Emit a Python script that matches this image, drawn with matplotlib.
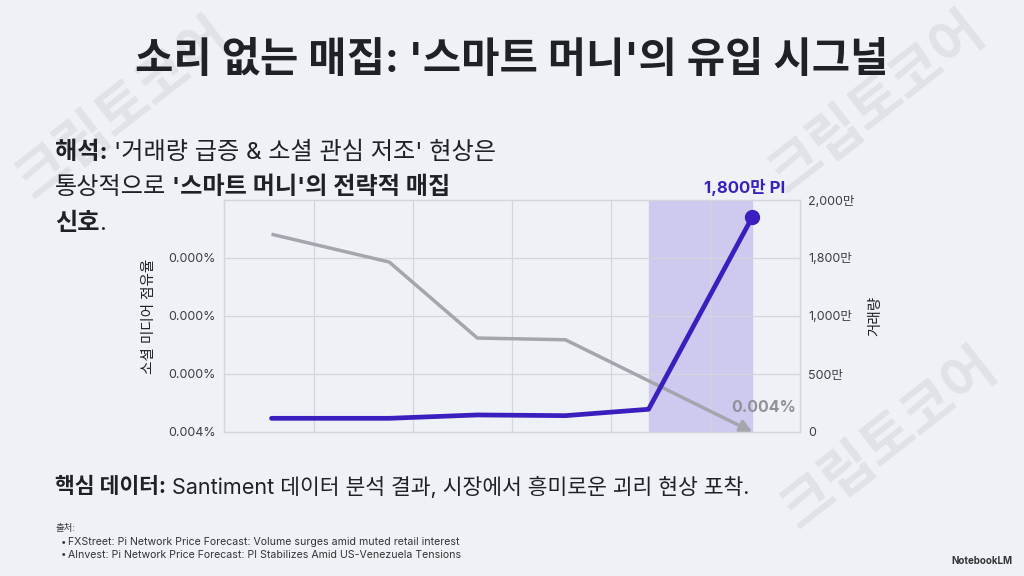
import matplotlib
matplotlib.use('Agg')
import matplotlib.pyplot as plt

# Inter for latin, Noto CJK for hangul (close to Pretendard look)
plt.rcParams['font.family'] = ['Inter', 'Noto Sans CJK KR', 'DejaVu Sans']

# ---- data ----
# x positions of the observations (dates are not labelled in the source)
x_pos = [0.57, 1.76, 2.65, 3.54, 4.38, 5.43]
volume = [118, 118, 147, 141, 196, 1856]          # 만 PI, right axis
social_x = [0.57, 1.76, 2.65, 3.54, 5.43]
social_share = [3.41, 2.93, 1.62, 1.59, 0.0]       # left axis units
left_ticks = [0, 1, 2, 3]
left_labels = ['0.004%', '0.000%', '0.000%', '0.000%']
right_ticks = [0, 500, 1000, 1500, 2000]
right_labels = ['0', '500만', '1,000만', '1,800만', '2,000만']
grid_x = [1, 2, 3, 4, 5]
shade_from, shade_to = 4.38, 5.43

BG = '#EEF2F6'
PURPLE = '#3A1FBE'
GRAY = '#A3A7AD'
DARK = '#1E2227'

W, H = 1024, 576
fig = plt.figure(figsize=(W / 100, H / 100), dpi=100, facecolor=BG)


def px(x, y):
    return x / W, 1 - y / H


# watermarks
for cx, cy in [(125, 110), (878, 104), (890, 440)]:
    fig.text(*px(cx, cy), '크립토코어', fontsize=40, fontweight='bold', color='#DFE3E8',
             rotation=38, ha='center', va='center', zorder=0)

# title
fig.text(*px(512, 61), "소리 없는 매집: '스마트 머니'의 유입 시그널", fontsize=30,
         fontweight='bold', color=DARK, ha='center', va='center')

renderer = fig.canvas.get_renderer()


def rich_line(x0, y, parts, size, color=DARK):
    cur = x0
    for txt, weight in parts:
        lead = len(txt) - len(txt.lstrip(' '))
        txt = txt.lstrip(' ')
        if lead:
            a = fig.text(0, 0, 'xx', fontsize=size, fontweight=weight)
            b = fig.text(0, 0, 'x x', fontsize=size, fontweight=weight)
            sp = b.get_window_extent(renderer).width - a.get_window_extent(renderer).width
            a.remove(); b.remove()
            cur += sp * lead
        t = fig.text(*px(cur, y), txt, fontsize=size, fontweight=weight, color=color,
                     ha='left', va='center')
        cur += t.get_window_extent(renderer).width


rich_line(55, 153, [('해석:', 'bold'), (" '거래량 급증 & 소셜 관심 저조' 현상은", 'normal')], 17.4)
rich_line(55, 188, [('통상적으로', 'normal'), (" '스마트 머니'의 전략적 매집", 'bold')], 17.4)
rich_line(55, 224, [('신호', 'bold'), ('.', 'normal')], 17.4)

rich_line(55, 487, [('핵심 데이터:', 'bold'),
                    (' Santiment 데이터 분석 결과, 시장에서 흥미로운 괴리 현상 포착.', 'normal')], 15.5)

fig.text(*px(55, 528), '출처:', fontsize=6.8, color='#333333', ha='left', va='center')
sources = ['FXStreet: Pi Network Price Forecast: Volume surges amid muted retail interest',
           'AInvest: Pi Network Price Forecast: PI Stabilizes Amid US-Venezuela Tensions']
for i, s in enumerate(sources):
    fig.text(*px(61, 542 + 12.5 * i), '•', fontsize=7, color='#333333', ha='left', va='center')
    fig.text(*px(68, 542 + 12.5 * i), s, fontsize=7.6, color='#333333',
             ha='left', va='center')

fig.text(*px(1012, 561), 'NotebookLM', fontsize=7, fontweight='bold', color='#333333',
         ha='right', va='center')

# ---- chart ----
ax = fig.add_axes([224 / W, 1 - 432 / H, 576 / W, 232 / H])
ax.set_facecolor(BG)
ax2 = ax.twinx()

ax.set_xlim(0.09, 5.91)
ax.set_ylim(0, 4)
ax2.set_ylim(0, 2000)

ax.axvspan(shade_from, shade_to, color='#CDC9EF', zorder=0)
for gx in grid_x:
    ax.axvline(gx, color='#D3D7DD', lw=0.9, zorder=0.5)
for gy in left_ticks[1:]:
    ax.axhline(gy, color='#D3D7DD', lw=0.9, zorder=0.5)

ax.plot(social_x[:-1], social_share[:-1], color=GRAY, lw=2.5, solid_capstyle='butt',
        zorder=2)
ax.annotate('', xy=(social_x[-1], social_share[-1]), xytext=(social_x[-2], social_share[-2]),
            arrowprops=dict(arrowstyle='-|>,head_length=0.7,head_width=0.35', color=GRAY,
                            lw=2.5, shrinkA=0, shrinkB=0), annotation_clip=False, zorder=2)
ax.annotate('0.004%', xy=(social_x[-1], social_share[-1]), xytext=(8, 18),
            textcoords='offset points', fontsize=11.5, fontweight='bold', color='#8E9297',
            ha='center', va='center')

ax2.plot(x_pos, volume, color=PURPLE, lw=3.4, zorder=3, solid_capstyle='round')
ax2.plot(x_pos[-1], volume[-1], 'o', color=PURPLE, markersize=10, zorder=4)
fig.text(*px(745, 187), '1,800만 PI', fontsize=12, fontweight='bold', color=PURPLE,
         ha='center', va='center', zorder=5)

ax.set_xticks([])
ax.set_yticks(left_ticks)
ax.set_yticklabels(left_labels)
ax2.set_yticks(right_ticks)
ax2.set_yticklabels(right_labels)
for a in (ax, ax2):
    a.tick_params(length=0, labelsize=9, labelcolor='#3A3E44', pad=6)
    for sp in a.spines.values():
        sp.set_color('#D3D7DD')
        sp.set_linewidth(0.9)

ax.set_ylabel('소셜 미디어 점유율', fontsize=10.5, color=DARK, labelpad=9)
ax2.set_ylabel('거래량', fontsize=10.5, color=DARK, rotation=90, labelpad=10)

fig.savefig('out.png', dpi=100, facecolor=BG)
